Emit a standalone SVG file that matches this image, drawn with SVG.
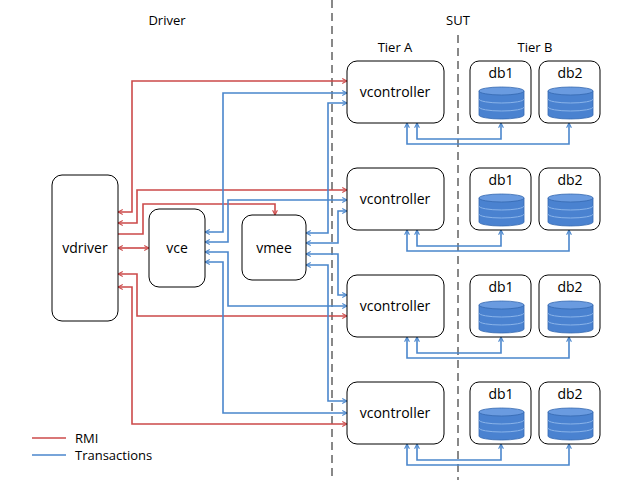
<svg xmlns="http://www.w3.org/2000/svg" width="640" height="480" viewBox="0 0 640 480">
<style>
text{font-family:"Open Sans","Liberation Sans",sans-serif;fill:#000}
.t{font-size:13px}
.n{font-size:14px}
.box{fill:#fff;stroke:#000;stroke-width:1}
.r{fill:none;stroke:#cc4a4a;stroke-width:1.6;marker-start:url(#ar);marker-end:url(#ar)}
.b{fill:none;stroke:#4a86cc;stroke-width:1.6;marker-start:url(#ab);marker-end:url(#ab)}
.re{fill:none;stroke:#cc4a4a;stroke-width:1.6;marker-end:url(#ar)}
.dash{stroke:#888;stroke-width:2;stroke-dasharray:8,5}
.cyl{fill:#4a82d0;stroke:#3568b0;stroke-width:0.8}
.top{fill:#6a9be0;stroke:#3568b0;stroke-width:0.8}
</style>
<defs>
<marker id="ar" viewBox="0 0 10 10" refX="9" refY="5" markerWidth="6" markerHeight="6" orient="auto-start-reverse" markerUnits="userSpaceOnUse"><path d="M1,1 L9,5 L1,9" fill="none" stroke="#cc4a4a" stroke-width="1.8"/></marker>
<marker id="ab" viewBox="0 0 10 10" refX="9" refY="5" markerWidth="6" markerHeight="6" orient="auto-start-reverse" markerUnits="userSpaceOnUse"><path d="M1,1 L9,5 L1,9" fill="none" stroke="#4a86cc" stroke-width="1.8"/></marker>
<g id="db">
<rect class="box" x="0" y="0" width="61" height="62" rx="9"/>
<path class="cyl" d="M9,30 v24 a22.5,4 0 0 0 45,0 v-24 z"/>
<path d="M9,38 a22.5,4 0 0 0 45,0 M9,46 a22.5,4 0 0 0 45,0" fill="none" stroke="#8ab4ea" stroke-width="1"/>
<ellipse class="top" cx="31.5" cy="30" rx="22.5" ry="4"/>
</g>
</defs>
<line class="dash" x1="332" y1="0" x2="332" y2="480"/>
<line class="dash" x1="458" y1="35" x2="458" y2="480"/>
<text class="t" x="167" y="25" text-anchor="middle">Driver</text>
<text class="t" x="458" y="25" text-anchor="middle">SUT</text>
<text class="t" x="395" y="52" text-anchor="middle">Tier A</text>
<text class="t" x="535" y="52" text-anchor="middle">Tier B</text>
<g id="connectors">
<path class="r" d="M118,212 H132 V81 H347"/>
<path class="r" d="M118,223 H137 V190 H347"/>
<path class="re" d="M118,234 H143 V204 H275 V215"/>
<path class="r" d="M118,248 H149"/>
<path class="r" d="M118,274 H137 V316 H347"/>
<path class="r" d="M118,287 H132 V424 H347"/>
<path class="b" d="M205,232 H223 V93 H347"/>
<path class="b" d="M205,242 H228 V200 H347"/>
<path class="b" d="M205,252 H228 V306 H347"/>
<path class="b" d="M205,262 H223 V413 H347"/>
<path class="b" d="M306,233 H328 V103 H347"/>
<path class="b" d="M306,243 H338 V211 H347"/>
<path class="b" d="M306,254 H338 V295 H347"/>
<path class="b" d="M306,265 H328 V401 H347"/>
<g id="dbl">
<path class="b" d="M417,123 V139 H501 V123"/>
<path class="b" d="M407,123 V144 H569 V123"/>
</g>
<use href="#dbl" y="107"/>
<use href="#dbl" y="214"/>
<use href="#dbl" y="321"/>
</g>
<g id="vdriver"><rect class="box" x="52" y="175" width="66" height="146" rx="10"/><text class="n" x="85" y="253" text-anchor="middle">vdriver</text></g>
<g id="vce"><rect class="box" x="149" y="209" width="56" height="78" rx="10"/><text class="n" x="177" y="253" text-anchor="middle">vce</text></g>
<g id="vmee"><rect class="box" x="242" y="215" width="64" height="65" rx="10"/><text class="n" x="274" y="253" text-anchor="middle">vmee</text></g>
<g id="vc1"><rect class="box" x="347" y="61" width="97" height="62" rx="10"/><text class="n" x="395" y="97" text-anchor="middle">vcontroller</text></g>
<g id="vc2"><rect class="box" x="347" y="168" width="97" height="62" rx="10"/><text class="n" x="395" y="204" text-anchor="middle">vcontroller</text></g>
<g id="vc3"><rect class="box" x="347" y="275" width="97" height="62" rx="10"/><text class="n" x="395" y="311" text-anchor="middle">vcontroller</text></g>
<g id="vc4"><rect class="box" x="347" y="382" width="97" height="62" rx="10"/><text class="n" x="395" y="418" text-anchor="middle">vcontroller</text></g>
<g id="db1a"><use href="#db" x="470" y="61"/><text class="n" x="501" y="78" text-anchor="middle">db1</text></g>
<g id="db2a"><use href="#db" x="539" y="61"/><text class="n" x="570" y="78" text-anchor="middle">db2</text></g>
<g id="db1b"><use href="#db" x="470" y="168"/><text class="n" x="501" y="185" text-anchor="middle">db1</text></g>
<g id="db2b"><use href="#db" x="539" y="168"/><text class="n" x="570" y="185" text-anchor="middle">db2</text></g>
<g id="db1c"><use href="#db" x="470" y="275"/><text class="n" x="501" y="292" text-anchor="middle">db1</text></g>
<g id="db2c"><use href="#db" x="539" y="275"/><text class="n" x="570" y="292" text-anchor="middle">db2</text></g>
<g id="db1d"><use href="#db" x="470" y="382"/><text class="n" x="501" y="399" text-anchor="middle">db1</text></g>
<g id="db2d"><use href="#db" x="539" y="382"/><text class="n" x="570" y="399" text-anchor="middle">db2</text></g>
<g id="legend">
<line x1="32" y1="438" x2="66" y2="438" stroke="#cc4a4a" stroke-width="1.6"/>
<text class="t" x="75" y="443">RMI</text>
<line x1="32" y1="455" x2="66" y2="455" stroke="#4a86cc" stroke-width="1.6"/>
<text class="t" x="75" y="460">Transactions</text>
</g>
</svg>
